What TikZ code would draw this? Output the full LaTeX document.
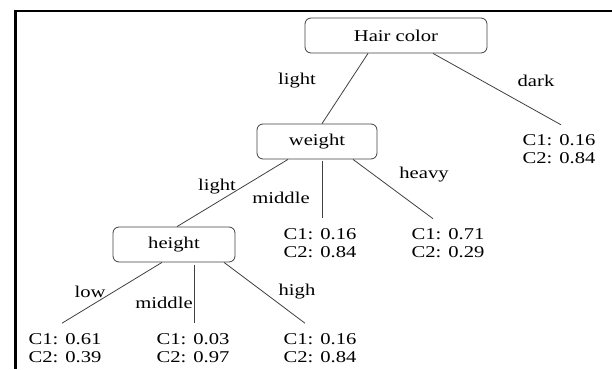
\documentclass[tikz,border=0pt]{standalone}
\usepackage{fontspec}
\setmainfont{Liberation Serif}[FakeStretch=1.25]
\usetikzlibrary{calc}
\begin{document}
\begin{tikzpicture}[x=1pt,y=-1pt,
  every node/.style={font=\fontsize{16.5}{18}\selectfont, text=black},
  splitbox/.style={draw=black!75, line width=0.8pt, rounded corners=6pt,
                   minimum height=35pt, inner sep=0pt},
  leaf/.style={align=left, inner sep=0pt},
  edgelabel/.style={inner sep=0pt},
  branch/.style={draw=black!75, line width=0.8pt}]
\useasboundingbox (0,0) rectangle (612,369);

% frame
\draw[line width=2.4pt] (15.5,369) -- (15.5,11.2) -- (612,11.2);

% split nodes
\node[splitbox, minimum width=182pt] (hair)   at (396,35.5)  {Hair color};
\node[splitbox, minimum width=120pt] (weight) at (317,141.5) {weight};
\node[splitbox, minimum width=122pt] (height) at (174,244.5) {height};

% leaves
\node[leaf] (dleaf)    at (559,149) {C1: 0.16\\C2: 0.84};
\node[leaf] (mleaf)    at (320,243) {C1: 0.16\\C2: 0.84};
\node[leaf] (hleaf)    at (448,243) {C1: 0.71\\C2: 0.29};
\node[leaf] (lowleaf)  at (65,348)  {C1: 0.61\\C2: 0.39};
\node[leaf] (midleaf)  at (193,348) {C1: 0.03\\C2: 0.97};
\node[leaf] (highleaf) at (320,348) {C1: 0.16\\C2: 0.84};

% branches
\draw[branch] ([xshift=-28pt]hair.south) -- ([xshift=5pt]weight.north);
\draw[branch] ([xshift=37pt]hair.south) -- ([xshift=2pt,yshift=9.4pt]dleaf.north);
\draw[branch] ([xshift=-29pt]weight.south) -- ([xshift=3pt]height.north);
\draw[branch] ([xshift=5pt,yshift=-2pt]weight.south) -- ([xshift=2pt,yshift=10pt]mleaf.north);
\draw[branch] ([xshift=36pt]weight.south) -- ([xshift=-15pt,yshift=9.5pt]hleaf.north);
\draw[branch] ([xshift=-12pt]height.south) -- ([xshift=-3pt,yshift=10pt]lowleaf.north);
\draw[branch] ([xshift=20pt,yshift=-3pt]height.south) -- ([xshift=1pt,yshift=10pt]midleaf.north);
\draw[branch] ([xshift=50pt]height.south) -- ([xshift=-15pt,yshift=10pt]highleaf.north);

% branch labels
\node[edgelabel] (lbllight)  at (297,81)  {light};
\node[edgelabel] (lbldark)   at (536,81)  {dark};
\node[edgelabel] (lblwlight) at (217,187) {light};
\node[edgelabel] (lblwmid)   at (281,198) {middle};
\node[edgelabel] (lblheavy)  at (424,175) {heavy};
\node[edgelabel] (lbllow)    at (90,292)  {low};
\node[edgelabel] (lblhmid)   at (164,303) {middle};
\node[edgelabel] (lblhigh)   at (297,292) {high};
\end{tikzpicture}
\end{document}
